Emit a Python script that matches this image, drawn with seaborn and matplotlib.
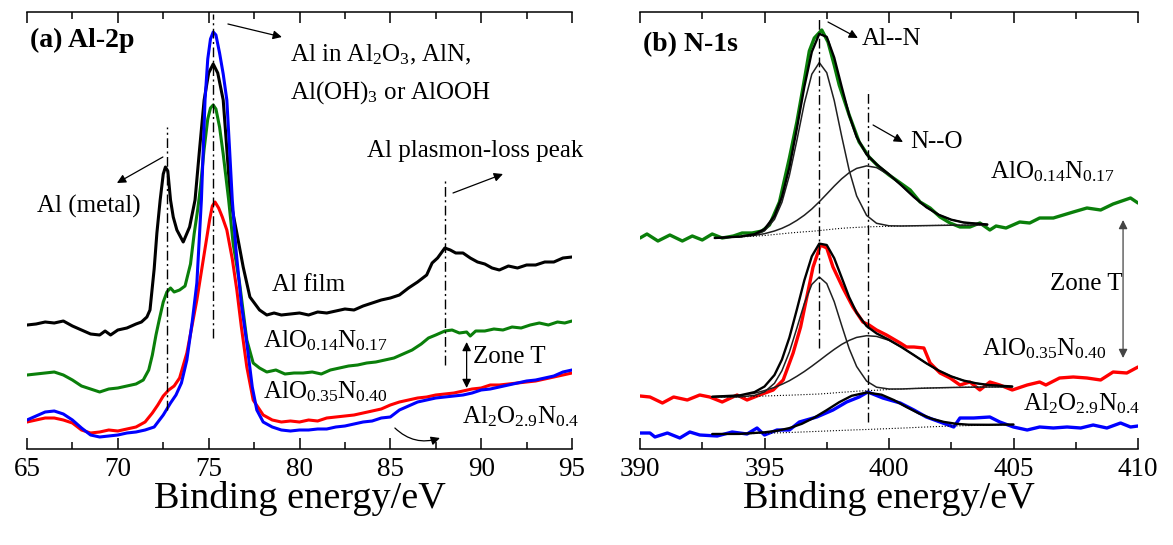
import matplotlib
matplotlib.use("Agg")
import matplotlib.pyplot as plt
import seaborn as sns
from matplotlib.ticker import MultipleLocator

# ---------------- data: (a) Al-2p ----------------
film_E = [65.0, 65.5, 66.0, 66.5, 67.0, 67.5, 68.0, 68.5, 69.0, 69.3, 69.6, 70.0, 70.5, 71.0, 71.3, 71.6,
          71.77, 72.0, 72.15, 72.33, 72.5, 72.62, 72.75, 72.9, 73.05, 73.25, 73.6, 73.95, 74.25, 74.5,
          74.75, 75.0, 75.25, 75.5, 75.8, 76.0, 76.2, 76.55, 76.9, 77.27, 77.8, 78.2, 78.6, 79.0, 79.5,
          80.0, 80.5, 81.0, 81.5, 82.0, 82.5, 83.0, 83.5, 84.0, 84.5, 85.0, 85.5, 86.0, 86.5, 87.0, 87.3,
          87.6, 88.0, 88.3, 88.6, 89.0, 89.4, 89.8, 90.2, 90.6, 91.0, 91.5, 92.0, 92.5, 93.0, 93.5, 94.0,
          94.5, 95.0]
film_I = [124, 125, 127, 126, 128, 123, 119, 115, 114, 118, 114, 119, 121, 125, 127, 132,
          139, 180, 216, 249, 275, 282, 278, 249, 232, 219, 207, 222, 249, 300,
          349, 376, 385, 376, 349, 300, 249, 216, 182, 152, 139, 134, 136, 134, 135,
          136, 134, 137, 136, 138, 140, 139, 143, 146, 149, 151, 154, 161, 167, 174, 186,
          191, 201, 199, 196, 196, 191, 187, 185, 181, 179, 183, 181, 184, 184, 187, 187,
          191, 192]

a014_E = [65.0, 65.5, 66.0, 66.5, 67.0, 67.5, 68.0, 68.5, 69.0, 69.5, 70.0, 70.5, 71.0, 71.4, 71.7, 71.9,
          72.1, 72.3, 72.5, 72.7, 72.9, 73.1, 73.4, 73.7, 74.0, 74.2, 74.4, 74.55, 74.75, 74.95, 75.1,
          75.25, 75.4, 75.6, 75.8, 76.1, 76.35, 76.7, 77.1, 77.45, 77.8, 78.2, 78.7, 79.2, 79.7, 80.2,
          80.7, 81.2, 81.7, 82.2, 82.7, 83.2, 83.7, 84.2, 84.7, 85.2, 85.7, 86.2, 86.7, 87.1, 87.5, 88.0,
          88.4, 88.8, 89.2, 89.4, 89.7, 90.2, 90.7, 91.2, 91.7, 92.2, 92.7, 93.2, 93.7, 94.2, 94.6, 95.0]
a014_I = [74, 75, 76, 77, 74, 69, 63, 60, 57, 60, 61, 63, 65, 69, 79, 94,
          114, 131, 147, 157, 161, 157, 159, 163, 185, 215, 240, 262, 300, 330, 341,
          344, 340, 322, 295, 249, 205, 166, 109, 86, 81, 77, 79, 75, 76, 76,
          77, 75, 79, 81, 83, 84, 86, 87, 89, 91, 95, 99, 105, 111, 114, 118,
          119, 116, 117, 113, 118, 118, 120, 119, 122, 121, 124, 126, 124, 127, 126, 128]

a035_E = [65.0, 65.5, 66.0, 66.5, 67.0, 67.5, 68.0, 68.5, 69.0, 69.5, 70.0, 70.5, 71.0, 71.5, 71.9, 72.2,
          72.5, 72.8, 73.1, 73.4, 73.8, 74.05, 74.35, 74.7, 75.05, 75.2, 75.35, 75.55, 75.75, 76.0, 76.3,
          76.55, 76.8, 77.1, 77.45, 78.0, 78.5, 79.0, 79.5, 80.0, 80.5, 81.0, 81.5, 82.0, 82.5, 83.0, 83.5,
          84.0, 84.5, 85.0, 85.5, 86.0, 86.5, 87.0, 87.5, 88.0, 88.5, 89.0, 89.5, 90.0, 90.5, 91.0, 91.5,
          92.0, 92.5, 93.0, 93.5, 94.0, 94.5, 95.0]
a035_I = [27, 29, 31, 31, 29, 26, 19, 16, 17, 19, 18, 20, 22, 27, 36, 44,
          53, 59, 63, 71, 96, 120, 149, 189, 229, 243, 247, 241, 232, 219, 190,
          159, 122, 82, 49, 34, 29, 27, 28, 27, 29, 28, 31, 32, 33, 34, 36,
          38, 40, 44, 47, 49, 51, 52, 54, 55, 56, 58, 60, 61, 64, 64, 65,
          66, 67, 68, 70, 72, 74, 76]

a29_E = [65.0, 65.5, 66.0, 66.5, 67.0, 67.5, 68.0, 68.5, 69.0, 69.5, 70.0, 70.5, 71.0, 71.5, 72.0, 72.5,
         72.9, 73.2, 73.5, 73.8, 74.1, 74.35, 74.6, 74.8, 74.95, 75.1, 75.25, 75.4, 75.6, 75.8, 76.0,
         76.15, 76.3, 76.5, 76.8, 77.1, 77.4, 77.65, 78.0, 78.5, 79.0, 79.5, 80.0, 80.5, 81.0, 81.5,
         82.0, 82.5, 83.0, 83.5, 84.0, 84.5, 85.0, 85.5, 86.0, 86.5, 87.0, 87.5, 88.0, 88.5, 89.0, 89.5,
         90.0, 90.5, 91.0, 91.5, 92.0, 92.5, 93.0, 93.5, 94.0, 94.5, 95.0]
a29_I = [29, 33, 37, 38, 35, 29, 21, 14, 12, 13, 14, 16, 17, 19, 22, 34,
         46, 54, 66, 89, 128, 166, 249, 349, 390, 410, 417, 414, 396, 375, 349,
         300, 249, 200, 145, 106, 62, 39, 27, 22, 19, 18, 19, 19, 20, 20,
         22, 23, 25, 27, 28, 31, 32, 39, 43, 47, 49, 51, 52, 53, 54, 56,
         59, 60, 62, 64, 66, 68, 69, 71, 73, 77, 79]

# ---------------- data: (b) N-1s ----------------
n014_E = [390.0, 390.28, 390.72, 391.2, 391.7, 392.1, 392.5, 392.9, 393.3, 393.75, 394.1, 394.5, 394.9,
          395.2, 395.6, 396.0, 396.3, 396.55, 396.8, 397.0, 397.3, 397.55, 397.8, 398.0, 398.4, 398.8,
          399.2, 399.6, 400.0, 400.4, 400.85, 401.25, 401.65, 402.05, 402.45, 402.85, 403.25, 403.65,
          404.05, 404.3, 404.7, 405.25, 405.65, 406.05, 406.6, 407.0, 407.4, 407.95, 408.5, 409.0,
          409.7, 410.0]
n014_I = [211, 215, 208, 214, 208, 213, 209, 215, 211, 213, 216, 216, 218,
          224, 247, 291, 327, 362, 398, 411, 419, 407, 384, 364, 334, 307,
          292, 282, 274, 267, 259, 247, 241, 232, 226, 222, 222, 226,
          219, 223, 221, 227, 226, 231, 231, 234, 237, 241, 239, 245,
          251, 246]

n035_E = [390.0, 390.4, 390.9, 391.35, 391.9, 392.4, 392.8, 393.3, 393.9, 394.3, 394.8, 395.35, 395.75,
          396.15, 396.45, 396.7, 396.95, 397.25, 397.5, 397.75, 398.15, 398.55, 398.95, 399.2, 399.5,
          399.9, 400.45, 400.7, 401.0, 401.4, 401.65, 402.05, 402.45, 402.85, 403.25, 403.65, 404.05,
          404.45, 404.95, 405.55, 406.05, 406.3, 406.85, 407.4, 407.95, 408.5, 409.0, 409.55, 410.0]
n035_I = [53, 52, 46, 52, 49, 54, 52, 47, 54, 49, 54, 59, 69,
          96, 122, 152, 182, 204, 201, 182, 161, 142, 127, 124, 119,
          114, 106, 102, 102, 101, 86, 76, 71, 64, 67, 59, 67,
          64, 59, 64, 67, 64, 71, 72, 71, 69, 77, 76, 82]

n29_E = [390.0, 390.4, 390.6, 391.1, 391.6, 392.0, 392.4, 393.1, 393.7, 394.3, 394.7, 395.0, 395.5,
         396.0, 396.4, 397.1, 397.75, 398.3, 398.8, 399.15, 399.75, 400.45, 401.0, 401.5, 402.05,
         402.6, 402.85, 403.4, 404.05, 404.45, 405.0, 405.55, 406.05, 406.6, 407.15, 407.7, 408.2,
         408.75, 409.3, 409.7, 410.0]
n29_I = [16, 16, 12, 16, 11, 17, 14, 13, 17, 15, 21, 14, 19,
         19, 27, 32, 39, 47, 52, 57, 51, 46, 39, 32, 27,
         22, 31, 31, 32, 27, 22, 19, 22, 21, 22, 21, 24,
         21, 26, 22, 23]

# fitted curves
fit014_E = [393.0, 394.0, 394.6, 395.0, 395.4, 395.7, 396.0, 396.3, 396.6, 396.9, 397.2, 397.5, 397.8,
            398.1, 398.4, 398.7, 399.1, 399.5, 400.0, 400.5, 401.0, 401.5, 402.0, 402.5, 403.0, 403.95]
fit014_bg = [211, 212, 212.8, 213.5, 214.5, 215.2, 216, 216.6, 217.2, 217.7, 218.4, 219.2, 220,
             220.7, 221.2, 221.6, 222.1, 222.4, 222.7, 223, 223.2, 223.4, 223.6, 223.8, 223.9, 224]
fit014_AlN = [211, 212.1, 213.9, 218.1, 229.6, 246.7, 273.6, 308.6, 345.7, 374.8, 386.4, 376.3, 348.5,
              312.7, 278.8, 253.1, 233.6, 225.7, 223.2, 223.0, 223.2, 223.4, 223.6, 223.8, 223.9, 224.0]
fit014_NO = [211, 212.3, 213.7, 215.3, 218.0, 220.7, 224.2, 228.6, 233.8, 240.0, 247.2, 255.0, 262.9,
             270.2, 276.3, 280.6, 283.1, 281.4, 274.2, 263.6, 252.0, 241.8, 234.2, 229.3, 226.5, 224.5]
fit014_sum = [211, 212.4, 214.8, 219.9, 233.1, 252.2, 281.8, 320.6, 362.3, 397.1, 415.2, 412.1, 391.4,
              362.2, 333.9, 312.1, 294.6, 284.7, 274.7, 263.6, 252.0, 241.8, 234.2, 229.3, 226.5, 224.5]

fit035_E = [392.9, 394.0, 394.6, 395.0, 395.4, 395.7, 396.0, 396.3, 396.6, 396.9, 397.2, 397.5, 397.8,
            398.1, 398.4, 398.7, 399.1, 399.5, 400.0, 400.5, 401.0, 401.5, 402.0, 402.5, 403.0, 403.5,
            404.0, 404.95]
fit035_bg = [52, 52, 52.5, 53, 53.3, 53.6, 53.8, 54.1, 54.4, 54.7, 55, 55.5, 56.1,
             56.7, 57.2, 57.8, 58.3, 58.8, 59.5, 60, 60.5, 60.9, 61.2, 61.5, 61.7, 61.9, 62, 62]
fit035_AlN = [52, 52.1, 53.6, 57.1, 65.7, 78.3, 97.0, 120.9, 145.6, 164.6, 172, 165.4, 147.3,
              123.5, 100.4, 82.5, 67.9, 61.8, 60.0, 60, 60.5, 60.9, 61.2, 61.5, 61.7, 61.9, 62, 62]
fit035_NO = [52.3, 53.5, 55.8, 58.4, 61.6, 64.7, 68.3, 72.7, 77.5, 82.8, 88.4, 94.1, 99.6,
             104.6, 108.6, 111.6, 113.3, 112.6, 108.7, 101.9, 93.9, 85.7, 78.4, 72.6, 68.4, 65.7, 64.0, 62.5]
fit035_sum = [52.3, 53.6, 56.9, 62.5, 74.0, 89.4, 111.5, 139.5, 168.7, 192.7, 205.4, 204.0, 190.8,
              171.4, 151.8, 136.3, 122.9, 115.6, 109.2, 101.9, 93.9, 85.7, 78.4, 72.6, 68.4, 65.7, 64.0, 62.5]

fit29_E = [392.9, 394.0, 395.0, 395.5, 396.0, 396.5, 397.0, 397.5, 398.0, 398.5, 399.1, 399.7, 400.2,
           400.7, 401.2, 401.7, 402.2, 402.7, 403.2, 404.0, 405.0]
fit29_bg = [15, 15, 15.8, 16.1, 16.5, 17, 17.5, 18, 18.5, 19, 19.5, 20.1, 20.6,
            21.1, 21.7, 22.2, 22.7, 23.1, 23.4, 24, 24.5]
fit29_sum = [15.0, 15.1, 16.7, 18.2, 20.9, 25.2, 31.4, 38.9, 46.8, 53.2, 56.5, 54.3, 48.9,
             42.0, 35.6, 30.4, 27.1, 25.2, 24.3, 24.2, 24.5]

# peak markers
al_peaks = [72.7, 75.25, 88.0]
n_peaks = [397.2, 399.15]

# ---------------- style ----------------
sns.set_theme(style="ticks")
plt.rcParams["font.family"] = ["Liberation Serif", "DejaVu Serif"]
plt.rcParams["mathtext.fontset"] = "custom"
plt.rcParams["mathtext.rm"] = "Liberation Serif"
plt.rcParams["mathtext.it"] = "Liberation Serif:italic"
plt.rcParams["mathtext.bf"] = "Liberation Serif:bold"
plt.rcParams["text.color"] = "black"
plt.rcParams["axes.labelcolor"] = "black"
plt.rcParams["xtick.color"] = "black"
plt.rcParams["xtick.labelcolor"] = "black"

GREEN = "#0a7f0a"
RED = "#ff0000"
BLUE = "#0000ff"
TXT = 18
DASHDOT = (0, (7, 2.5, 1.5, 2.5))

fig = plt.figure(figsize=(11.73, 5.45), dpi=100)
axA = fig.add_axes([27 / 1173, 1 - 449 / 545, 545 / 1173, 437 / 545])
axB = fig.add_axes([640 / 1173, 1 - 449 / 545, 498 / 1173, 437 / 545])


def style_axis(ax, xmin, xmax):
    ax.set_xlim(xmin, xmax)
    ax.set_ylim(0, 437)
    ax.set_facecolor("white")
    for s in ("left", "right"):
        ax.spines[s].set_visible(False)
    for s in ("top", "bottom"):
        ax.spines[s].set_linewidth(1.1)
        ax.spines[s].set_color("black")
    ax.set_yticks([])
    ax.set_ylabel("")
    ax.xaxis.set_major_locator(MultipleLocator(5))
    ax.xaxis.set_minor_locator(MultipleLocator(2.5))
    ax.tick_params(axis="x", which="both", direction="in", top=True, bottom=True,
                   width=1.1, color="black", labelcolor="black", labelsize=19.5, pad=6)
    ax.tick_params(axis="x", which="major", length=8)
    ax.tick_params(axis="x", which="minor", length=5)
    ax.set_xlabel("Binding energy/eV", fontsize=27.5, labelpad=-1, color="black")


def line(ax, x, y, color, lw, ls="-"):
    sns.lineplot(x=x, y=y, ax=ax, color=color, linewidth=lw, linestyle=ls,
                 estimator=None, sort=False, legend=False)


def arrow(ax, start, end, color="black", style="-|>", rad=0.0, lw=0.9):
    ax.annotate("", xy=end, xytext=start,
                arrowprops=dict(arrowstyle=style, color=color, lw=lw, mutation_scale=13,
                                shrinkA=0, shrinkB=0,
                                connectionstyle=f"arc3,rad={rad}"))


# ---------------- panel (a) ----------------
line(axA, film_E, film_I, "black", 2.2)
line(axA, a014_E, a014_I, GREEN, 2.2)
line(axA, a035_E, a035_I, RED, 2.2)
line(axA, a29_E, a29_I, BLUE, 2.2)

for xp, (y0, y1) in zip(al_peaks, [(39, 322), (111, 435), (84, 269)]):
    axA.plot([xp, xp], [y0, y1], color="black", lw=1.0, linestyle=DASHDOT)

style_axis(axA, 65, 95)

axA.text(65.17, 402, "(a) Al-2p", fontsize=20, fontweight="bold", ha="left", va="baseline")
axA.text(79.47, 388, "Al in Al$_2$O$_3$, AlN,", fontsize=TXT, ha="left", va="baseline")
axA.text(79.47, 350, "Al(OH)$_3$ or AlOOH", fontsize=TXT, ha="left", va="baseline")
axA.text(83.71, 292, "Al plasmon-loss peak", fontsize=TXT, ha="left", va="baseline")
axA.text(65.55, 236, "Al (metal)", fontsize=TXT, ha="left", va="baseline")
axA.text(78.48, 158, "Al film", fontsize=TXT, ha="left", va="baseline")
axA.text(77.99, 102, "AlO$_{0.14}$N$_{0.17}$", fontsize=TXT, ha="left", va="baseline")
axA.text(89.55, 86, "Zone T", fontsize=TXT, ha="left", va="baseline")
axA.text(77.99, 51, "AlO$_{0.35}$N$_{0.40}$", fontsize=TXT, ha="left", va="baseline")
axA.text(88.94, 26, "Al$_2$O$_{2.9}$N$_{0.4}$", fontsize=TXT, ha="left", va="baseline")

arrow(axA, (76.06, 425), (79.03, 412))
arrow(axA, (72.48, 292), (69.95, 266))
arrow(axA, (88.45, 256), (91.2, 275))
arrow(axA, (89.2, 107), (89.2, 61), style="<|-|>")
arrow(axA, (85.25, 21), (87.73, 11), rad=0.3)

# ---------------- panel (b) ----------------
line(axB, n014_E, n014_I, GREEN, 2.4)
line(axB, n035_E, n035_I, RED, 2.4)
line(axB, n29_E, n29_I, BLUE, 2.4)

for E, bg in ((fit014_E, fit014_bg), (fit035_E, fit035_bg), (fit29_E, fit29_bg)):
    line(axB, E, bg, "black", 0.8, ls=":")
line(axB, fit014_E, fit014_AlN, "#202020", 1.1)
line(axB, fit014_E, fit014_NO, "#202020", 1.1)
line(axB, fit014_E, fit014_sum, "black", 1.7)
line(axB, fit035_E, fit035_AlN, "#202020", 1.1)
line(axB, fit035_E, fit035_NO, "#202020", 1.1)
line(axB, fit035_E, fit035_sum, "black", 1.7)
line(axB, fit29_E, fit29_sum, "black", 1.7)

for xp, (y0, y1) in zip(n_peaks, [(101, 432), (27, 359)]):
    axB.plot([xp, xp], [y0, y1], color="black", lw=1.0, linestyle=DASHDOT)

style_axis(axB, 390, 410)

axB.text(390.12, 398, "(b) N-1s", fontsize=20, fontweight="bold", ha="left", va="baseline")
axB.text(398.92, 404, "Al--N", fontsize=TXT, ha="left", va="baseline")
axB.text(400.84, 301, "N--O", fontsize=TXT, ha="left", va="baseline")
axB.text(404.06, 271, "AlO$_{0.14}$N$_{0.17}$", fontsize=TXT, ha="left", va="baseline")
axB.text(406.47, 159, "Zone T", fontsize=TXT, ha="left", va="baseline")
axB.text(403.73, 94, "AlO$_{0.35}$N$_{0.40}$", fontsize=TXT, ha="left", va="baseline")
axB.text(405.38, 39, "Al$_2$O$_{2.9}$N$_{0.4}$", fontsize=TXT, ha="left", va="baseline")

arrow(axB, (397.55, 427), (398.75, 411))
arrow(axB, (399.36, 324), (400.56, 307))
arrow(axB, (409.4, 229), (409.4, 91), color="#444444", style="<|-|>")

fig.savefig("out.png", dpi=100, facecolor="white")
